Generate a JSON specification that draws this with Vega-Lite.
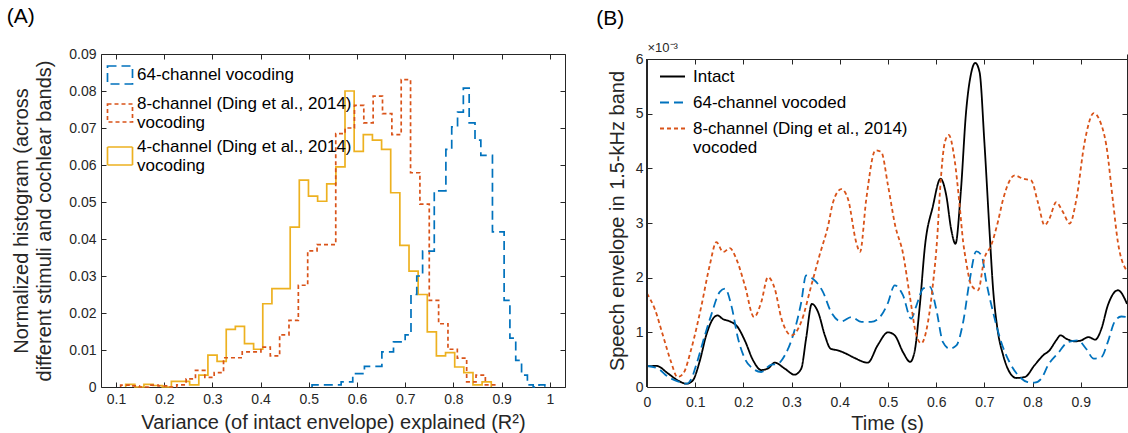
{
"$schema": "https://vega.github.io/schema/vega-lite/v6.json",
"padding": {"left": 6, "top": 6, "right": 0, "bottom": 0},
"background": "white",
"config": {
  "font": "Liberation Sans",
  "view": {"stroke": null},
  "axis": {"domainColor": "#262626", "tickColor": "#262626", "labelColor": "#262626", "titleColor": "#262626",
           "labelFont": "Liberation Sans", "titleFont": "Liberation Sans", "labelFontSize": 14, "titleFontSize": 20,
           "titleFontWeight": "normal", "grid": false, "tickSize": -5, "domainWidth": 1, "tickWidth": 1, "labelFlush": false}
},
"datasets": {
  "hist": [
    {"s":"4","i":0,"x":0.1201,"y":0},{"s":"4","i":1,"x":0.1201,"y":0.0007},{"s":"4","i":2,"x":0.1391,"y":0},{"s":"4","i":3,"x":0.1580,"y":0.0007},
    {"s":"4","i":4,"x":0.1770,"y":0.0004},{"s":"4","i":5,"x":0.1959,"y":0},{"s":"4","i":6,"x":0.2149,"y":0.0015},{"s":"4","i":7,"x":0.2339,"y":0.0015},
    {"s":"4","i":8,"x":0.2528,"y":0.0006},{"s":"4","i":9,"x":0.2718,"y":0.0032},{"s":"4","i":10,"x":0.2907,"y":0.0086},{"s":"4","i":11,"x":0.3097,"y":0.0069},
    {"s":"4","i":12,"x":0.3287,"y":0.0156},{"s":"4","i":13,"x":0.3476,"y":0.0164},{"s":"4","i":14,"x":0.3666,"y":0.0117},{"s":"4","i":15,"x":0.3855,"y":0.0102},
    {"s":"4","i":16,"x":0.4045,"y":0.0225},{"s":"4","i":17,"x":0.4235,"y":0.0266},{"s":"4","i":18,"x":0.4424,"y":0.0266},{"s":"4","i":19,"x":0.4614,"y":0.0432},
    {"s":"4","i":20,"x":0.4803,"y":0.0559},{"s":"4","i":21,"x":0.4993,"y":0.0516},{"s":"4","i":22,"x":0.5183,"y":0.0502},{"s":"4","i":23,"x":0.5372,"y":0.0549},
    {"s":"4","i":24,"x":0.5562,"y":0.0595},{"s":"4","i":25,"x":0.5751,"y":0.0800},{"s":"4","i":26,"x":0.5941,"y":0.0637},{"s":"4","i":27,"x":0.6131,"y":0.0682},
    {"s":"4","i":28,"x":0.6320,"y":0.0667},{"s":"4","i":29,"x":0.6510,"y":0.0642},{"s":"4","i":30,"x":0.6699,"y":0.0525},{"s":"4","i":31,"x":0.6889,"y":0.0383},
    {"s":"4","i":32,"x":0.7079,"y":0.0313},{"s":"4","i":33,"x":0.7268,"y":0.0250},{"s":"4","i":34,"x":0.7458,"y":0.0149},{"s":"4","i":35,"x":0.7647,"y":0.0084},
    {"s":"4","i":36,"x":0.7837,"y":0.0093},{"s":"4","i":37,"x":0.8027,"y":0.0054},{"s":"4","i":38,"x":0.8216,"y":0.0039},{"s":"4","i":39,"x":0.8406,"y":0.0006},
    {"s":"4","i":40,"x":0.8595,"y":0.0014},{"s":"4","i":41,"x":0.8785,"y":0},

    {"s":"8","i":0,"x":0.1097,"y":0},{"s":"8","i":1,"x":0.1097,"y":0.0005},{"s":"8","i":2,"x":0.1291,"y":0.0003},{"s":"8","i":3,"x":0.1485,"y":0},
    {"s":"8","i":4,"x":0.1679,"y":0.0005},{"s":"8","i":5,"x":0.1873,"y":0.0003},{"s":"8","i":6,"x":0.2067,"y":0},{"s":"8","i":7,"x":0.2261,"y":0.0006},
    {"s":"8","i":8,"x":0.2455,"y":0.0022},{"s":"8","i":9,"x":0.2649,"y":0.0045},{"s":"8","i":10,"x":0.2843,"y":0.0026},{"s":"8","i":11,"x":0.3037,"y":0.0039},
    {"s":"8","i":12,"x":0.3231,"y":0.0079},{"s":"8","i":13,"x":0.3425,"y":0.0079},{"s":"8","i":14,"x":0.3619,"y":0.0095},{"s":"8","i":15,"x":0.3813,"y":0.0095},
    {"s":"8","i":16,"x":0.4007,"y":0.0108},{"s":"8","i":17,"x":0.4201,"y":0.0084},{"s":"8","i":18,"x":0.4395,"y":0.0141},{"s":"8","i":19,"x":0.4589,"y":0.0180},
    {"s":"8","i":20,"x":0.4783,"y":0.0275},{"s":"8","i":21,"x":0.4977,"y":0.0368},{"s":"8","i":22,"x":0.5171,"y":0.0385},{"s":"8","i":23,"x":0.5365,"y":0.0385},
    {"s":"8","i":24,"x":0.5559,"y":0.0685},{"s":"8","i":25,"x":0.5753,"y":0.0700},{"s":"8","i":26,"x":0.5947,"y":0.0761},{"s":"8","i":27,"x":0.6141,"y":0.0714},
    {"s":"8","i":28,"x":0.6335,"y":0.0786},{"s":"8","i":29,"x":0.6529,"y":0.0739},{"s":"8","i":30,"x":0.6723,"y":0.0682},{"s":"8","i":31,"x":0.6917,"y":0.0831},
    {"s":"8","i":32,"x":0.7111,"y":0.0579},{"s":"8","i":33,"x":0.7305,"y":0.0494},{"s":"8","i":34,"x":0.7499,"y":0.0234},{"s":"8","i":35,"x":0.7693,"y":0.0171},
    {"s":"8","i":36,"x":0.7887,"y":0.0102},{"s":"8","i":37,"x":0.8081,"y":0.0078},{"s":"8","i":38,"x":0.8275,"y":0.0014},{"s":"8","i":39,"x":0.8469,"y":0.0032},
    {"s":"8","i":40,"x":0.8663,"y":0.0006},{"s":"8","i":41,"x":0.8857,"y":0},

    {"s":"64","i":0,"x":0.5067,"y":0},{"s":"64","i":1,"x":0.5067,"y":0.0006},{"s":"64","i":2,"x":0.5188,"y":0.0006},{"s":"64","i":3,"x":0.5308,"y":0.0006},
    {"s":"64","i":4,"x":0.5429,"y":0.0006},{"s":"64","i":5,"x":0.5550,"y":0.0006},{"s":"64","i":6,"x":0.5671,"y":0.0014},{"s":"64","i":7,"x":0.5791,"y":0.0014},
    {"s":"64","i":8,"x":0.5912,"y":0.0036},{"s":"64","i":9,"x":0.6033,"y":0.0036},{"s":"64","i":10,"x":0.6154,"y":0.0056},{"s":"64","i":11,"x":0.6274,"y":0.0056},
    {"s":"64","i":12,"x":0.6395,"y":0.0056},{"s":"64","i":13,"x":0.6516,"y":0.0095},{"s":"64","i":14,"x":0.6637,"y":0.0095},{"s":"64","i":15,"x":0.6757,"y":0.0122},
    {"s":"64","i":16,"x":0.6878,"y":0.0122},{"s":"64","i":17,"x":0.6999,"y":0.0141},{"s":"64","i":18,"x":0.7120,"y":0.0250},{"s":"64","i":19,"x":0.7240,"y":0.0300},
    {"s":"64","i":20,"x":0.7361,"y":0.0367},{"s":"64","i":21,"x":0.7482,"y":0.0367},{"s":"64","i":22,"x":0.7603,"y":0.0530},{"s":"64","i":23,"x":0.7723,"y":0.0530},
    {"s":"64","i":24,"x":0.7844,"y":0.0642},{"s":"64","i":25,"x":0.7965,"y":0.0703},{"s":"64","i":26,"x":0.8086,"y":0.0743},{"s":"64","i":27,"x":0.8206,"y":0.0808},
    {"s":"64","i":28,"x":0.8327,"y":0.0714},{"s":"64","i":29,"x":0.8448,"y":0.0667},{"s":"64","i":30,"x":0.8569,"y":0.0626},{"s":"64","i":31,"x":0.8689,"y":0.0626},
    {"s":"64","i":32,"x":0.8810,"y":0.0419},{"s":"64","i":33,"x":0.8931,"y":0.0419},{"s":"64","i":34,"x":0.9052,"y":0.0234},{"s":"64","i":35,"x":0.9172,"y":0.0132},
    {"s":"64","i":36,"x":0.9293,"y":0.0072},{"s":"64","i":37,"x":0.9414,"y":0.0032},{"s":"64","i":38,"x":0.9535,"y":0.0006},{"s":"64","i":39,"x":0.9655,"y":0},
    {"s":"64","i":40,"x":0.9776,"y":0.0006},{"s":"64","i":41,"x":0.9897,"y":0}
  ],
  "env": [
    {"c":"Intact","t":0,"v":0.38},{"c":"Intact","t":0.02,"v":0.385},{"c":"Intact","t":0.044,"v":0.245},{"c":"Intact","t":0.064,"v":0.12},
    {"c":"Intact","t":0.082,"v":0.06},{"c":"Intact","t":0.095,"v":0.12},{"c":"Intact","t":0.109,"v":0.46},{"c":"Intact","t":0.123,"v":0.95},
    {"c":"Intact","t":0.137,"v":1.25},{"c":"Intact","t":0.146,"v":1.31},{"c":"Intact","t":0.158,"v":1.24},{"c":"Intact","t":0.172,"v":1.2},
    {"c":"Intact","t":0.187,"v":1.11},{"c":"Intact","t":0.203,"v":0.85},{"c":"Intact","t":0.22,"v":0.49},{"c":"Intact","t":0.237,"v":0.31},
    {"c":"Intact","t":0.251,"v":0.34},{"c":"Intact","t":0.265,"v":0.445},{"c":"Intact","t":0.286,"v":0.335},{"c":"Intact","t":0.306,"v":0.225},
    {"c":"Intact","t":0.32,"v":0.335},{"c":"Intact","t":0.33,"v":0.88},{"c":"Intact","t":0.342,"v":1.52},{"c":"Intact","t":0.355,"v":1.37},
    {"c":"Intact","t":0.369,"v":0.945},{"c":"Intact","t":0.381,"v":0.7},{"c":"Intact","t":0.396,"v":0.67},{"c":"Intact","t":0.413,"v":0.61},
    {"c":"Intact","t":0.431,"v":0.53},{"c":"Intact","t":0.458,"v":0.445},{"c":"Intact","t":0.479,"v":0.77},{"c":"Intact","t":0.5,"v":1.0},
    {"c":"Intact","t":0.514,"v":0.945},{"c":"Intact","t":0.531,"v":0.64},{"c":"Intact","t":0.546,"v":0.46},{"c":"Intact","t":0.555,"v":0.64},
    {"c":"Intact","t":0.566,"v":1.49},{"c":"Intact","t":0.577,"v":2.6},{"c":"Intact","t":0.593,"v":3.3},{"c":"Intact","t":0.609,"v":3.81},
    {"c":"Intact","t":0.621,"v":3.5},{"c":"Intact","t":0.631,"v":2.89},{"c":"Intact","t":0.64,"v":2.62},{"c":"Intact","t":0.651,"v":3.56},
    {"c":"Intact","t":0.662,"v":5.03},{"c":"Intact","t":0.673,"v":5.76},{"c":"Intact","t":0.681,"v":5.93},{"c":"Intact","t":0.69,"v":5.76},
    {"c":"Intact","t":0.7,"v":4.48},{"c":"Intact","t":0.711,"v":2.8},{"c":"Intact","t":0.718,"v":1.8},{"c":"Intact","t":0.727,"v":1.07},
    {"c":"Intact","t":0.739,"v":0.58},{"c":"Intact","t":0.752,"v":0.274},{"c":"Intact","t":0.766,"v":0.165},{"c":"Intact","t":0.784,"v":0.183},
    {"c":"Intact","t":0.804,"v":0.397},{"c":"Intact","t":0.822,"v":0.58},{"c":"Intact","t":0.835,"v":0.67},{"c":"Intact","t":0.849,"v":0.853},
    {"c":"Intact","t":0.858,"v":0.945},{"c":"Intact","t":0.87,"v":0.883},{"c":"Intact","t":0.887,"v":0.835},{"c":"Intact","t":0.901,"v":0.853},
    {"c":"Intact","t":0.916,"v":0.914},{"c":"Intact","t":0.93,"v":0.865},{"c":"Intact","t":0.943,"v":1.07},{"c":"Intact","t":0.956,"v":1.49},
    {"c":"Intact","t":0.977,"v":1.77},{"c":"Intact","t":0.996,"v":1.52},

    {"c":"64","t":0,"v":0.384},{"c":"64","t":0.023,"v":0.335},{"c":"64","t":0.044,"v":0.183},{"c":"64","t":0.064,"v":0.104},
    {"c":"64","t":0.082,"v":0.06},{"c":"64","t":0.092,"v":0.15},{"c":"64","t":0.104,"v":0.457},{"c":"64","t":0.12,"v":0.945},
    {"c":"64","t":0.133,"v":1.31},{"c":"64","t":0.151,"v":1.74},{"c":"64","t":0.162,"v":1.8},{"c":"64","t":0.175,"v":1.49},
    {"c":"64","t":0.189,"v":0.883},{"c":"64","t":0.203,"v":0.518},{"c":"64","t":0.22,"v":0.335},{"c":"64","t":0.237,"v":0.274},
    {"c":"64","t":0.255,"v":0.397},{"c":"64","t":0.272,"v":0.427},{"c":"64","t":0.286,"v":0.58},{"c":"64","t":0.303,"v":0.945},
    {"c":"64","t":0.32,"v":1.55},{"c":"64","t":0.33,"v":2.04},{"c":"64","t":0.344,"v":1.98},{"c":"64","t":0.365,"v":1.74},
    {"c":"64","t":0.382,"v":1.37},{"c":"64","t":0.403,"v":1.2},{"c":"64","t":0.424,"v":1.28},{"c":"64","t":0.445,"v":1.19},
    {"c":"64","t":0.465,"v":1.19},{"c":"64","t":0.486,"v":1.31},{"c":"64","t":0.499,"v":1.52},{"c":"64","t":0.514,"v":1.86},
    {"c":"64","t":0.531,"v":1.68},{"c":"64","t":0.548,"v":1.25},{"c":"64","t":0.559,"v":1.49},{"c":"64","t":0.573,"v":1.8},
    {"c":"64","t":0.587,"v":1.83},{"c":"64","t":0.6,"v":1.43},{"c":"64","t":0.614,"v":0.82},{"c":"64","t":0.628,"v":0.7},
    {"c":"64","t":0.642,"v":0.76},{"c":"64","t":0.656,"v":1.19},{"c":"64","t":0.67,"v":1.98},{"c":"64","t":0.683,"v":2.48},
    {"c":"64","t":0.694,"v":2.41},{"c":"64","t":0.704,"v":1.92},{"c":"64","t":0.718,"v":1.37},{"c":"64","t":0.735,"v":0.82},
    {"c":"64","t":0.752,"v":0.457},{"c":"64","t":0.77,"v":0.214},{"c":"64","t":0.79,"v":0.091},{"c":"64","t":0.804,"v":0.08},
    {"c":"64","t":0.818,"v":0.152},{"c":"64","t":0.832,"v":0.397},{"c":"64","t":0.853,"v":0.62},{"c":"64","t":0.873,"v":0.82},
    {"c":"64","t":0.894,"v":0.853},{"c":"64","t":0.911,"v":0.7},{"c":"64","t":0.927,"v":0.518},{"c":"64","t":0.943,"v":0.548},
    {"c":"64","t":0.956,"v":0.82},{"c":"64","t":0.97,"v":1.19},{"c":"64","t":0.984,"v":1.29},{"c":"64","t":0.996,"v":1.28},

    {"c":"8","t":0,"v":1.71},{"c":"8","t":0.016,"v":1.43},{"c":"8","t":0.033,"v":0.945},{"c":"8","t":0.05,"v":0.457},
    {"c":"8","t":0.063,"v":0.183},{"c":"8","t":0.075,"v":0.244},{"c":"8","t":0.092,"v":0.7},{"c":"8","t":0.113,"v":1.49},
    {"c":"8","t":0.13,"v":2.22},{"c":"8","t":0.144,"v":2.65},{"c":"8","t":0.158,"v":2.47},{"c":"8","t":0.172,"v":2.54},
    {"c":"8","t":0.185,"v":2.35},{"c":"8","t":0.203,"v":1.86},{"c":"8","t":0.222,"v":1.28},{"c":"8","t":0.237,"v":1.55},
    {"c":"8","t":0.251,"v":2.01},{"c":"8","t":0.265,"v":1.8},{"c":"8","t":0.279,"v":1.25},{"c":"8","t":0.3,"v":0.945},
    {"c":"8","t":0.32,"v":1.19},{"c":"8","t":0.341,"v":1.86},{"c":"8","t":0.358,"v":2.41},{"c":"8","t":0.376,"v":2.96},
    {"c":"8","t":0.386,"v":3.38},{"c":"8","t":0.403,"v":3.62},{"c":"8","t":0.417,"v":3.44},{"c":"8","t":0.434,"v":2.65},
    {"c":"8","t":0.442,"v":2.47},{"c":"8","t":0.455,"v":3.44},{"c":"8","t":0.474,"v":4.33},{"c":"8","t":0.486,"v":4.3},
    {"c":"8","t":0.5,"v":3.69},{"c":"8","t":0.515,"v":2.95},{"c":"8","t":0.531,"v":2.45},{"c":"8","t":0.545,"v":1.68},
    {"c":"8","t":0.559,"v":0.945},{"c":"8","t":0.569,"v":0.8},{"c":"8","t":0.583,"v":1.19},{"c":"8","t":0.593,"v":1.86},
    {"c":"8","t":0.602,"v":2.71},{"c":"8","t":0.608,"v":3.6},{"c":"8","t":0.618,"v":4.48},{"c":"8","t":0.626,"v":4.61},
    {"c":"8","t":0.638,"v":4.17},{"c":"8","t":0.648,"v":3.38},{"c":"8","t":0.656,"v":2.65},{"c":"8","t":0.662,"v":2.3},
    {"c":"8","t":0.673,"v":1.86},{"c":"8","t":0.687,"v":1.77},{"c":"8","t":0.7,"v":2.35},{"c":"8","t":0.714,"v":2.59},
    {"c":"8","t":0.728,"v":3.02},{"c":"8","t":0.739,"v":3.44},{"c":"8","t":0.763,"v":3.87},{"c":"8","t":0.78,"v":3.81},
    {"c":"8","t":0.797,"v":3.78},{"c":"8","t":0.811,"v":3.38},{"c":"8","t":0.825,"v":2.96},{"c":"8","t":0.835,"v":3.08},
    {"c":"8","t":0.849,"v":3.38},{"c":"8","t":0.863,"v":3.2},{"c":"8","t":0.877,"v":2.99},{"c":"8","t":0.891,"v":3.44},
    {"c":"8","t":0.908,"v":4.48},{"c":"8","t":0.927,"v":5.01},{"c":"8","t":0.939,"v":4.88},{"c":"8","t":0.953,"v":4.42},
    {"c":"8","t":0.967,"v":3.38},{"c":"8","t":0.977,"v":2.65},{"c":"8","t":0.996,"v":2.12}
  ]
},
"spacing": 30,
"resolve": {"scale": {"color": "independent", "strokeDash": "independent"}, "legend": {"color": "independent", "strokeDash": "independent"}},
"hconcat": [
  {
    "title": {"text": "(A)", "anchor": "start", "frame": "bounds", "fontSize": 21, "fontWeight": "normal", "font": "Liberation Sans", "color": "#000000", "offset": 20, "dx": -5},
    "width": 464, "height": 333,
    "data": {"name": "hist"},
    "layer": [
      {
        "mark": {"type": "line", "interpolate": "step-after", "strokeWidth": 1.7},
        "encoding": {
          "x": {"field": "x", "type": "quantitative", "scale": {"domain": [0.0689, 1.0315], "nice": false, "zero": false},
                "axis": {"values": [0.1,0.2,0.3,0.4,0.5,0.6,0.7,0.8,0.9,1], "format": "~g", "labelPadding": 10,
                         "title": "Variance (of intact envelope) explained (R²)", "titlePadding": 6}},
          "y": {"field": "y", "type": "quantitative", "scale": {"domain": [0, 0.09], "nice": false},
                "axis": {"values": [0,0.01,0.02,0.03,0.04,0.05,0.06,0.07,0.08,0.09], "format": "~g", "labelPadding": 10,
                         "title": ["Normalized histogram (across", "different stimuli and cochlear bands)"], "titlePadding": 14, "titleLineHeight": 23}},
          "color": {"field": "s", "type": "nominal", "scale": {"domain": ["64","8","4"], "range": ["#0072BD","#D95319","#EDB120"]},
                    "legend": {"orient": "none", "legendX": 8, "legendY": 10, "title": null, "padding": 0,
                               "labelExpr": "datum.value == '64' ? '64-channel vocoding' : datum.value == '8' ? ['8-channel (Ding et al., 2014)', 'vocoding'] : ['4-channel (Ding et al., 2014)', 'vocoding']",
                               "symbolType": "M-1.25,-0.9H1.25V0.9H-1.25Z", "symbolSize": 400, "symbolStrokeWidth": 1.7,
                               "labelFontSize": 17, "labelFont": "Liberation Sans", "labelColor": "#000000", "labelLimit": 0, "labelOffset": 6, "rowPadding": 7,
                               "encode": {"labels": {"update": {"lineHeight": {"value": 18.5}, "dy": {"signal": "datum.value == '64' ? 0 : -9"}}}}}},
          "strokeDash": {"field": "s", "type": "nominal", "scale": {"domain": ["64","8","4"], "range": [[9,5],[4,3],[1,0]]},
                    "legend": {"orient": "none", "legendX": 8, "legendY": 10, "title": null, "padding": 0,
                               "labelExpr": "datum.value == '64' ? '64-channel vocoding' : datum.value == '8' ? ['8-channel (Ding et al., 2014)', 'vocoding'] : ['4-channel (Ding et al., 2014)', 'vocoding']",
                               "symbolType": "M-1.25,-0.9H1.25V0.9H-1.25Z", "symbolSize": 400, "symbolStrokeWidth": 1.7,
                               "labelFontSize": 17, "labelFont": "Liberation Sans", "labelColor": "#000000", "labelLimit": 0, "labelOffset": 6, "rowPadding": 7,
                               "encode": {"labels": {"update": {"lineHeight": {"value": 18.5}, "dy": {"signal": "datum.value == '64' ? 0 : -9"}}}}}},
          "order": {"field": "i", "type": "quantitative"}
        }
      },
      {
        "mark": {"type": "line", "opacity": 0},
        "encoding": {
          "x": {"field": "x", "type": "quantitative", "axis": {"orient": "top", "values": [0.1,0.2,0.3,0.4,0.5,0.6,0.7,0.8,0.9,1], "labels": false, "title": null}},
          "y": {"field": "y", "type": "quantitative", "axis": {"orient": "right", "values": [0,0.01,0.02,0.03,0.04,0.05,0.06,0.07,0.08,0.09], "labels": false, "title": null}},
          "detail": {"field": "s", "type": "nominal"},
          "order": {"field": "i", "type": "quantitative"}
        }
      }
    ],
    "resolve": {"axis": {"x": "independent", "y": "independent"}}
  },
  {
    "title": {"text": "(B)", "anchor": "start", "frame": "bounds", "fontSize": 21, "fontWeight": "normal", "font": "Liberation Sans", "color": "#000000", "offset": 13, "dx": -11},
    "width": 480, "height": 333,
    "data": {"name": "env"},
    "layer": [
      {
        "mark": {"type": "line", "interpolate": "monotone", "strokeWidth": 1.8, "clip": true},
        "encoding": {
          "x": {"field": "t", "type": "quantitative", "scale": {"domain": [0, 0.9959], "nice": false, "zero": false},
                "axis": {"values": [0,0.1,0.2,0.3,0.4,0.5,0.6,0.7,0.8,0.9], "format": "~g", "labelPadding": 13,
                         "title": "Time (s)", "titlePadding": 4}},
          "y": {"field": "v", "type": "quantitative", "scale": {"domain": [0, 6.0915], "nice": false},
                "axis": {"values": [0,1,2,3,4,5,6], "format": "d", "labelPadding": 9, "domain": false,
                         "title": "Speech envelope in 1.5-kHz band", "titlePadding": 8}},
          "color": {"field": "c", "type": "nominal", "scale": {"domain": ["Intact","64","8"], "range": ["#000000","#0072BD","#D95319"]},
                    "legend": {"orient": "none", "legendX": 12, "legendY": 9, "title": null, "padding": 0,
                               "labelExpr": "datum.value == 'Intact' ? 'Intact' : datum.value == '64' ? '64-channel vocoded' : ['8-channel (Ding et al., 2014)', 'vocoded']",
                               "symbolType": "stroke", "symbolSize": 625, "symbolStrokeWidth": 1.8,
                               "labelFontSize": 17, "labelFont": "Liberation Sans", "labelColor": "#000000", "labelLimit": 0, "labelOffset": 7, "rowPadding": 4,
                               "encode": {"labels": {"update": {"lineHeight": {"value": 19}}}}}},
          "strokeDash": {"field": "c", "type": "nominal", "scale": {"domain": ["Intact","64","8"], "range": [[1,0],[9,5],[4,3]]},
                    "legend": {"orient": "none", "legendX": 12, "legendY": 9, "title": null, "padding": 0,
                               "labelExpr": "datum.value == 'Intact' ? 'Intact' : datum.value == '64' ? '64-channel vocoded' : ['8-channel (Ding et al., 2014)', 'vocoded']",
                               "symbolType": "stroke", "symbolSize": 625, "symbolStrokeWidth": 1.8,
                               "labelFontSize": 17, "labelFont": "Liberation Sans", "labelColor": "#000000", "labelLimit": 0, "labelOffset": 7, "rowPadding": 4,
                               "encode": {"labels": {"update": {"lineHeight": {"value": 19}}}}}}
        }
      },
      {
        "mark": {"type": "line", "opacity": 0},
        "encoding": {
          "x": {"field": "t", "type": "quantitative", "axis": {"orient": "top", "offset": -5, "values": [0,0.1,0.2,0.3,0.4,0.5,0.6,0.7,0.8,0.9], "labels": false,
                "title": "×10⁻³", "titleFontSize": 13, "titleAnchor": "start", "titleAlign": "left", "titlePadding": 4}},
          "y": {"field": "v", "type": "quantitative", "axis": {"orient": "right", "values": [0,1,2,3,4,5,6], "labels": false, "title": null}},
          "detail": {"field": "c", "type": "nominal"}
        }
      },
      {
        "mark": {"type": "rule", "color": "#262626", "strokeWidth": 1},
        "encoding": {
          "x": {"datum": 0, "type": "quantitative", "axis": null},
          "y": {"datum": 0, "type": "quantitative", "axis": null},
          "y2": {"datum": 6}
        }
      }
    ],
    "resolve": {"axis": {"x": "independent", "y": "independent"}}
  }
]
}
